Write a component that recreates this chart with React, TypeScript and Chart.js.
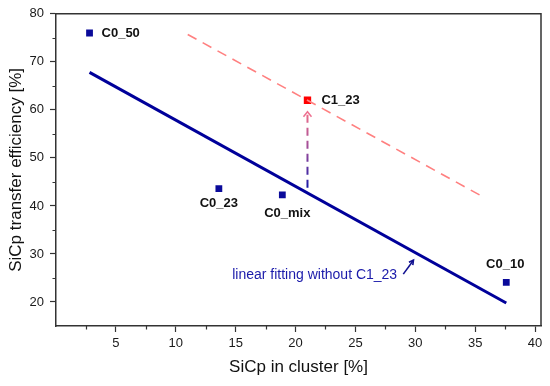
import React, { useEffect, useRef } from 'react';
import { Chart, registerables } from 'chart.js';

Chart.register(...registerables);

// ---- data ----
const xMajorTicks = [5, 10, 15, 20, 25, 30, 35, 40];
const xMinorTicks = [2.5, 7.5, 12.5, 17.5, 22.5, 27.5, 32.5, 37.5];
const yMajorTicks = [20, 30, 40, 50, 60, 70, 80];
const yMinorTicks = [25, 35, 45, 55, 65, 75];

const sampleLabels = ['C0_50', 'C0_23', 'C0_mix', 'C0_10'];
const sampleX = [2.8, 13.6, 18.9, 37.6];
const sampleY = [76.0, 43.6, 42.3, 24.1];

const clusterLabels = ['C1_23'];
const clusterX = [21.0];
const clusterY = [62.0];

const fitX = [2.8, 37.6];
const fitY = [67.8, 19.8];

const shiftedFitX = [11.0, 35.8];
const shiftedFitY = [75.7, 41.7];

const shiftArrowX = [21.0, 21.0];
const shiftArrowY = [43.8, 59.6];

const fitNote = 'linear fitting without C1_23';
const fitNoteX = 21.6;
const fitNoteY = 25.6;
const noteArrowX = [29.0, 29.85];
const noteArrowY = [25.8, 28.7];

const xTitle = 'SiCp in cluster [%]';
const yTitle = 'SiCp transfer efficiency [%]';

// ---- styles ----
const FONT = 'Arial, "Liberation Sans", sans-serif';
const sampleLabelStyle = [
  { dx: 12, dy: 0, align: 'left' },
  { dx: 0, dy: 15, align: 'center' },
  { dx: 5, dy: 19, align: 'center' },
  { dx: -1, dy: -18, align: 'center' },
];
const clusterLabelStyle = [{ dx: 14, dy: 0, align: 'left' }];

const toPts = (xs: number[], ys: number[]) => xs.map((v, i) => ({ x: v, y: ys[i] }));

const overlay = {
  id: 'overlay',
  afterDatasetsDraw(chart: any) {
    const { ctx, chartArea: a, scales } = chart;
    const x = scales.x;
    const y = scales.y;
    ctx.save();

    // frame top and right
    ctx.strokeStyle = '#333';
    ctx.lineWidth = 1.5;
    ctx.beginPath();
    ctx.moveTo(a.left, a.top);
    ctx.lineTo(a.right, a.top);
    ctx.lineTo(a.right, a.bottom);
    ctx.stroke();

    // minor ticks
    ctx.lineWidth = 1.2;
    ctx.beginPath();
    xMinorTicks.forEach((v) => {
      const px = Math.round(x.getPixelForValue(v)) + 0.5;
      ctx.moveTo(px, a.bottom);
      ctx.lineTo(px, a.bottom + 3.5);
    });
    yMinorTicks.forEach((v) => {
      const py = Math.round(y.getPixelForValue(v)) + 0.5;
      ctx.moveTo(a.left, py);
      ctx.lineTo(a.left - 3.5, py);
    });
    ctx.stroke();

    // vertical gradient dashed arrow
    const ax = x.getPixelForValue(shiftArrowX[0]);
    const ay0 = y.getPixelForValue(shiftArrowY[0]);
    const ay1 = y.getPixelForValue(shiftArrowY[1]);
    const grad = ctx.createLinearGradient(0, ay1, 0, ay0);
    grad.addColorStop(0, '#f0708a');
    grad.addColorStop(0.5, '#9a4a9a');
    grad.addColorStop(1, '#1a1aa8');
    ctx.strokeStyle = grad;
    ctx.lineWidth = 2;
    ctx.setLineDash([8, 5]);
    ctx.beginPath();
    ctx.moveTo(ax, ay0);
    ctx.lineTo(ax, ay1);
    ctx.stroke();
    ctx.setLineDash([]);
    ctx.lineWidth = 1.5;
    ctx.strokeStyle = '#ee7090';
    ctx.beginPath();
    ctx.moveTo(ax - 4, ay1 + 5);
    ctx.lineTo(ax, ay1);
    ctx.lineTo(ax + 4, ay1 + 5);
    ctx.stroke();

    // point labels
    ctx.fillStyle = '#111';
    ctx.font = `bold 13px ${FONT}`;
    ctx.textBaseline = 'middle';
    const drawLabels = (labels: string[], xs: number[], ys: number[], st: any[]) => {
      labels.forEach((t, i) => {
        ctx.textAlign = st[i].align;
        ctx.fillText(t, x.getPixelForValue(xs[i]) + st[i].dx, y.getPixelForValue(ys[i]) + st[i].dy);
      });
    };
    drawLabels(sampleLabels, sampleX, sampleY, sampleLabelStyle);
    drawLabels(clusterLabels, clusterX, clusterY, clusterLabelStyle);

    // fit note
    ctx.fillStyle = '#1a1aaa';
    ctx.font = `14px ${FONT}`;
    ctx.textAlign = 'center';
    ctx.fillText(fitNote, x.getPixelForValue(fitNoteX), y.getPixelForValue(fitNoteY));

    // note arrow
    const nx0 = x.getPixelForValue(noteArrowX[0]);
    const ny0 = y.getPixelForValue(noteArrowY[0]);
    const nx1 = x.getPixelForValue(noteArrowX[1]);
    const ny1 = y.getPixelForValue(noteArrowY[1]);
    ctx.strokeStyle = '#101090';
    ctx.lineWidth = 1.6;
    ctx.beginPath();
    ctx.moveTo(nx0, ny0);
    ctx.lineTo(nx1, ny1);
    ctx.stroke();
    const ang = Math.atan2(ny1 - ny0, nx1 - nx0);
    ctx.beginPath();
    ctx.moveTo(nx1 - 5 * Math.cos(ang - 0.5), ny1 - 5 * Math.sin(ang - 0.5));
    ctx.lineTo(nx1, ny1);
    ctx.lineTo(nx1 - 5 * Math.cos(ang + 0.5), ny1 - 5 * Math.sin(ang + 0.5));
    ctx.stroke();

    // y title
    ctx.fillStyle = '#111';
    ctx.font = `17px ${FONT}`;
    ctx.textAlign = 'center';
    ctx.textBaseline = 'middle';
    ctx.translate(16, (a.top + a.bottom) / 2);
    ctx.rotate(-Math.PI / 2);
    ctx.fillText(yTitle, 0, 0);

    ctx.restore();
  },
};

export default function App() {
  const ref = useRef<HTMLCanvasElement | null>(null);

  useEffect(() => {
    if (!ref.current) return;
    const chart = new Chart(ref.current, {
      type: 'scatter',
      data: {
        datasets: [
          {
            data: toPts(fitX, fitY),
            showLine: true,
            borderColor: '#00009a',
            borderWidth: 3,
            pointRadius: 0,
          },
          {
            data: toPts(shiftedFitX, shiftedFitY),
            showLine: true,
            borderColor: '#ff8080',
            borderWidth: 1.6,
            borderDash: [10, 7],
            pointRadius: 0,
          },
          {
            data: toPts(sampleX, sampleY),
            pointStyle: 'rect',
            pointRadius: 4.8,
            pointBackgroundColor: '#0a0a9a',
            pointBorderWidth: 0,
            showLine: false,
          },
          {
            data: toPts(clusterX, clusterY),
            pointStyle: 'rect',
            pointRadius: 5.2,
            pointBackgroundColor: '#ff0000',
            pointBorderWidth: 0,
            showLine: false,
          },
        ],
      },
      options: {
        responsive: false,
        animation: false,
        devicePixelRatio: 1,
        layout: { padding: { top: 12, right: 9, left: 0, bottom: 0 } },
        plugins: { legend: { display: false }, tooltip: { enabled: false } },
        scales: {
          x: {
            type: 'linear',
            min: 0,
            max: 40.5,
            afterBuildTicks: (s: any) => {
              s.ticks = xMajorTicks.map((v) => ({ value: v }));
            },
            afterFit: (s: any) => {
              s.height = 60;
            },
            grid: { drawOnChartArea: false, tickLength: 6, tickColor: '#333', tickWidth: 1.2 },
            border: { display: true, color: '#333', width: 1.5 },
            ticks: { font: { size: 13, family: FONT }, color: '#1a1a1a', padding: 4, maxRotation: 0 },
            title: {
              display: true,
              text: xTitle,
              font: { size: 17, family: FONT },
              color: '#111',
              padding: { top: 0, bottom: 8 },
            },
          },
          y: {
            type: 'linear',
            min: 15,
            max: 80,
            afterBuildTicks: (s: any) => {
              s.ticks = yMajorTicks.map((v) => ({ value: v }));
            },
            afterFit: (s: any) => {
              s.width = 56;
            },
            grid: { drawOnChartArea: false, tickLength: 6, tickColor: '#333', tickWidth: 1.2 },
            border: { display: true, color: '#333', width: 1.5 },
            ticks: { font: { size: 13, family: FONT }, color: '#1a1a1a', padding: 6 },
          },
        },
      },
      plugins: [overlay],
    });
    return () => chart.destroy();
  }, []);

  return (
    <div style={{ position: 'fixed', left: 0, top: 0, width: 550, height: 386, background: '#fff' }}>
      <canvas ref={ref} width={550} height={386} />
    </div>
  );
}
